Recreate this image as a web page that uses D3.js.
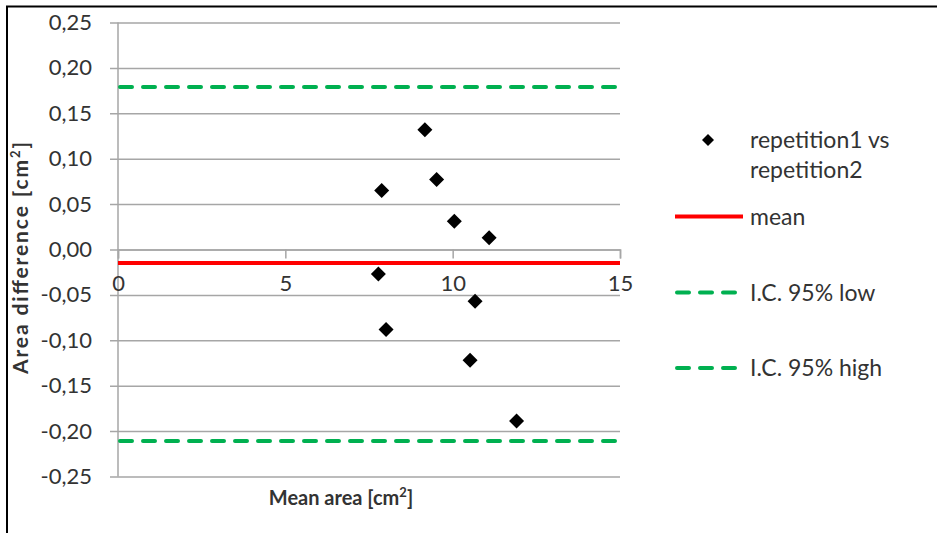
<!DOCTYPE html>
<html>
  <head>
    <title> Bland-Altman plot </title>
    <script src="https://d3js.org/d3.v7.min.js"></script>
    <style>
      body { margin: 0; background: #fff; }
      text { font-family: Lato, "Open Sans", sans-serif; fill: #333; }
    </style>
  </head>
  <body>
  <svg width="937" height="533"></svg>
  <script>

    // data
    var meanArea = [9.17, 9.52, 7.88, 10.05, 11.09, 7.78, 10.67, 8.01, 10.52, 11.91];
    var areaDiff = [0.132, 0.077, 0.065, 0.031, 0.013, -0.027, -0.057, -0.088, -0.122, -0.189];
    var meanDiff = -0.015;
    var icLow = -0.211;
    var icHigh = 0.179;
    var xTicks = [0, 5, 10, 15];
    var yTicks = [-0.25, -0.20, -0.15, -0.10, -0.05, 0, 0.05, 0.10, 0.15, 0.20, 0.25];
    var legendLabels = ["repetition1 vs", "repetition2", "mean", "I.C. 95% low", "I.C. 95% high"];

    var svg = d3.select("svg");

    // outer frame (only top and left edges are visible)
    svg.append("rect")
      .attr("x", 7).attr("y", 6.5)
      .attr("width", 960).attr("height", 560)
      .attr("fill", "none").attr("stroke", "#000").attr("stroke-width", 2);

    var x = d3.scaleLinear().domain([0, 15]).range([118, 620]);
    var y = d3.scaleLinear().domain([-0.25, 0.25]).range([476.5, 22.5]);

    var loc = d3.formatLocale({decimal: ",", thousands: ".", grouping: [3], currency: ["", ""], minus: "-"});
    var fmt = loc.format(".2f");

    // horizontal gridlines + y labels
    var gy = svg.append("g")
      .attr("transform", "translate(110,0)")
      .call(d3.axisLeft(y).tickValues(yTicks).tickFormat(fmt)
        .tickSizeInner(-(620 - 110)).tickSizeOuter(0).tickPadding(18));
    gy.select(".domain").remove();
    gy.selectAll("line").attr("stroke", "#a6a6a6").attr("stroke-width", 1.5);
    gy.selectAll("text").attr("font-size", "22px").attr("fill", "#333")
      .style("font-family", "Lato, sans-serif");

    // vertical axis line
    svg.append("line")
      .attr("x1", x(0)).attr("x2", x(0))
      .attr("y1", y(0.25)).attr("y2", y(-0.25))
      .attr("stroke", "#a6a6a6").attr("stroke-width", 1.5);

    // x axis at y = 0
    var gx = svg.append("g")
      .attr("transform", "translate(0," + y(0) + ")")
      .call(d3.axisBottom(x).tickValues(xTicks).tickSize(9).tickPadding(17));
    gx.select(".domain").attr("stroke", "#a6a6a6").attr("stroke-width", 1.5);
    gx.selectAll("line").attr("stroke", "#a6a6a6").attr("stroke-width", 1.5);
    gx.selectAll("text").attr("font-size", "22px").attr("fill", "#333")
      .style("font-family", "Lato, sans-serif");

    // reference lines
    svg.append("line")
      .attr("x1", x(0)).attr("x2", x(15))
      .attr("y1", y(meanDiff)).attr("y2", y(meanDiff))
      .attr("stroke", "#ff0000").attr("stroke-width", 4);

    [icLow, icHigh].forEach(function(v) {
      svg.append("line")
        .attr("x1", x(0) + 2).attr("x2", x(15))
        .attr("y1", y(v)).attr("y2", y(v))
        .attr("stroke", "#00b050").attr("stroke-width", 4)
        .attr("stroke-linecap", "round")
        .attr("stroke-dasharray", "12,11");
    });

    // diamonds
    var diamond = "M0,-7.5L7.5,0L0,7.5L-7.5,0Z";
    svg.selectAll(".pt")
      .data(meanArea)
      .enter()
      .append("path")
      .attr("class", "pt")
      .attr("d", diamond)
      .attr("fill", "#000")
      .attr("transform", function(d, i) { return "translate(" + x(d) + "," + y(areaDiff[i]) + ")"; });

    // axis titles
    var xt = svg.append("text")
      .attr("x", 341).attr("y", 505)
      .attr("text-anchor", "middle")
      .attr("font-size", "20px").attr("font-weight", "bold").attr("fill", "#222");
    xt.append("tspan").text("Mean area [cm");
    xt.append("tspan").attr("baseline-shift", "super").attr("font-size", "13px").text("2");
    xt.append("tspan").text("]");

    var yt = svg.append("text")
      .attr("transform", "translate(28,258) rotate(-90)")
      .attr("text-anchor", "middle")
      .attr("font-size", "21px").attr("font-weight", "bold").attr("fill", "#222")
      .attr("textLength", 232).attr("lengthAdjust", "spacing");
    yt.append("tspan").text("Area difference [cm");
    yt.append("tspan").attr("baseline-shift", "super").attr("font-size", "13px").text("2");
    yt.append("tspan").text("]");

    // legend
    var lg = svg.append("g").attr("font-size", "23px");
    lg.append("path").attr("d", "M0,-6L6,0L0,6L-6,0Z").attr("fill", "#000")
      .attr("transform", "translate(708,140)");
    lg.append("line").attr("x1", 675).attr("x2", 743).attr("y1", 216.5).attr("y2", 216.5)
      .attr("stroke", "#ff0000").attr("stroke-width", 4);
    [292.5, 368].forEach(function(yy) {
      lg.append("line").attr("x1", 677).attr("x2", 737).attr("y1", yy).attr("y2", yy)
        .attr("stroke", "#00b050").attr("stroke-width", 4)
        .attr("stroke-linecap", "round").attr("stroke-dasharray", "12,11");
    });
    var legendY = [140, 170, 216.5, 292.5, 368];
    lg.selectAll(".lt")
      .data(legendLabels)
      .enter()
      .append("text")
      .attr("class", "lt")
      .attr("x", 750)
      .attr("y", function(d, i) { return legendY[i]; })
      .attr("dy", "0.35em")
      .text(function(d) { return d; });

  </script>
  </body>
</html>
